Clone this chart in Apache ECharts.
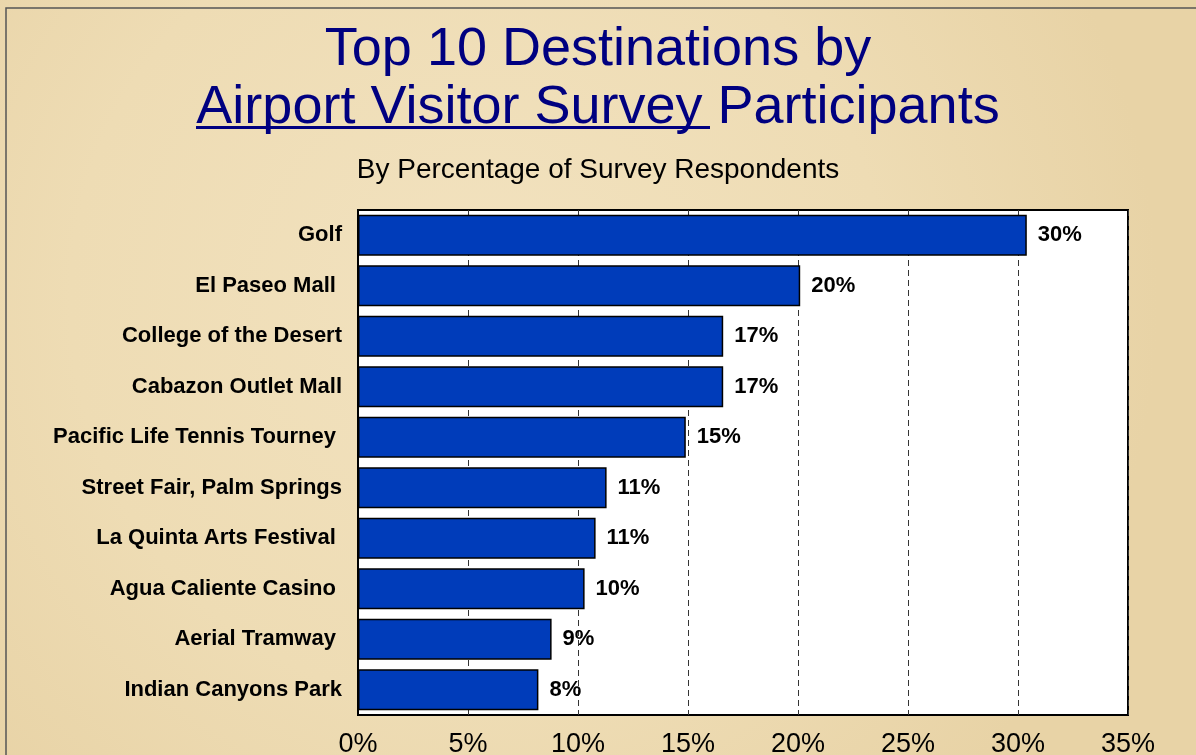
<!DOCTYPE html>
<html>
<head>
<meta charset="utf-8">
<title>Top 10 Destinations</title>
<script src="https://cdn.jsdelivr.net/npm/echarts@6/dist/echarts.min.js"></script>
<style>
    html, body { margin: 0; padding: 0; background: #eedcb4; }
    #js-bar { width: 1196px; height: 755px; }
</style>
</head>
<body>
<div id="js-bar"></div>
<script>
// data
const categories = [
    'Golf', 'El Paseo Mall ', 'College of the Desert', 'Cabazon Outlet Mall',
    'Pacific Life Tennis Tourney ', 'Street Fair, Palm Springs', 'La Quinta Arts Festival ',
    'Agua Caliente Casino ', 'Aerial Tramway ', 'Indian Canyons Park'
];
const percents = [30.4, 20.1, 16.6, 16.6, 14.9, 11.3, 10.8, 10.3, 8.8, 8.2];
const tickValues = [0, 5, 10, 15, 20, 25, 30, 35];

const font = 'Arial, "Liberation Sans", sans-serif';

const chart = echarts.init(document.getElementById('js-bar'));
const option = {
    backgroundColor: {
        type: 'radial', x: 0.4, y: 0.4, r: 0.9,
        colorStops: [
            {offset: 0, color: '#f2e2bf'},
            {offset: 0.6, color: '#eedcb4'},
            {offset: 1, color: '#e8d3a6'}
        ]
    },
    title: [{
        text: 'Top 10 Destinations by',
        left: 'center',
        top: 18,
        textStyle: {fontSize: 54, fontWeight: 'normal', color: '#000080', fontFamily: font}
    }, {
        text: 'Airport Visitor Survey Participants',
        left: 'center',
        top: 76,
        textStyle: {fontSize: 54, fontWeight: 'normal', color: '#000080', fontFamily: font}
    }, {
        text: 'By Percentage of Survey Respondents',
        left: 'center',
        top: 151,
        textStyle: {fontSize: 28, fontWeight: 'normal', color: '#000', fontFamily: font}
    }],
    graphic: [{
        // page frame
        type: 'rect',
        shape: {x: 6, y: 8, width: 1400, height: 1000},
        style: {fill: 'none', stroke: '#555', lineWidth: 1.5},
        silent: true
    }, {
        // underline of "Airport Visitor Survey"
        type: 'rect',
        shape: {x: 196, y: 126, width: 514, height: 3},
        style: {fill: '#000080'},
        silent: true
    }],
    grid: {
        left: 358,
        right: 68,
        top: 210,
        bottom: 40,
        outerBoundsMode: 'none',
        show: true,
        backgroundColor: '#fff',
        borderColor: '#000',
        borderWidth: 2
    },
    xAxis: {
        type: 'value',
        min: tickValues[0],
        max: tickValues[tickValues.length - 1],
        interval: 5,
        axisLine: {show: false},
        axisTick: {show: false},
        axisLabel: {
            fontSize: 27,
            color: '#000',
            fontFamily: font,
            margin: 16,
            formatter: '{value}%'
        },
        splitLine: {
            show: true,
            lineStyle: {color: '#333', width: 1, type: [6, 4]}
        }
    },
    yAxis: {
        type: 'category',
        inverse: true,
        data: categories,
        axisLine: {show: true, lineStyle: {color: '#000', width: 2}},
        axisTick: {show: false},
        axisLabel: {
            fontSize: 22,
            fontWeight: 'bold',
            color: '#000',
            fontFamily: font,
            margin: 16
        }
    },
    series: [{
        name: 'Percent',
        type: 'bar',
        data: percents,
        barWidth: 41,
        itemStyle: {
            color: '#003cba',
            borderColor: '#000',
            borderWidth: 1.5
        },
        label: {
            show: true,
            position: 'right',
            distance: 11,
            fontSize: 22,
            fontWeight: 'bold',
            color: '#000',
            fontFamily: font,
            formatter: function (p) {
                return Math.round(p.value) + '%';
            }
        },
        silent: true,
        animation: false
    }]
};
chart.setOption(option);
</script>
</body>
</html>
